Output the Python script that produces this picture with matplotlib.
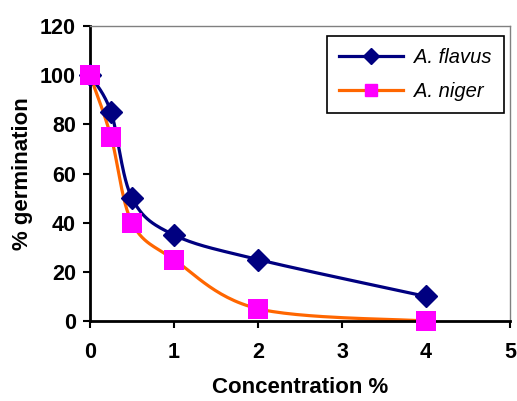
import numpy as np
import matplotlib
matplotlib.use('Agg')
import matplotlib.pyplot as plt
from matplotlib.lines import Line2D

plt.rcParams['font.family'] = ['Liberation Sans', 'DejaVu Sans']

conc = [0, 0.25, 0.5, 1, 2, 4]
flavus = [100, 85, 50, 35, 25, 10]
niger = [100, 75, 40, 25, 5, 0]


def smooth(x, y, n=30):
    # Excel-style smoothed line (Catmull-Rom through the points)
    x = np.asarray(x, float)
    y = np.asarray(y, float)
    px = np.concatenate([[x[0]], x, [x[-1]]])
    py = np.concatenate([[y[0]], y, [y[-1]]])
    xs, ys = [], []
    for i in range(1, len(px) - 2):
        p0 = np.array([px[i], py[i]])
        p3 = np.array([px[i + 1], py[i + 1]])
        c1 = p0 + (np.array([px[i + 1], py[i + 1]]) - np.array([px[i - 1], py[i - 1]])) / 6
        c2 = p3 - (np.array([px[i + 2], py[i + 2]]) - np.array([px[i], py[i]])) / 6
        t = np.linspace(0, 1, n)[:, None]
        b = (1 - t) ** 3 * p0 + 3 * (1 - t) ** 2 * t * c1 + 3 * (1 - t) * t ** 2 * c2 + t ** 3 * p3
        xs.extend(b[:, 0])
        ys.extend(b[:, 1])
    return xs, ys


fig = plt.figure(figsize=(5.17, 4.01), dpi=100)
ax = fig.add_axes([90 / 517, 1 - 321 / 401, 420 / 517, 295 / 401])

navy = '#000080'
orange = '#FF6600'
magenta = '#FF00FF'

sx, sy = smooth(conc, flavus)
ax.plot(sx, sy, color=navy, lw=2.3, zorder=3)
sx, sy = smooth(conc, niger)
ax.plot(sx, sy, color=orange, lw=2.3, zorder=2)
ax.plot(conc, flavus, 'D', color=navy, ms=11, zorder=4, clip_on=False)
ax.plot(conc, niger, 's', color=magenta, ms=14, mew=0, zorder=5, clip_on=False)

ax.set_xlim(0, 5)
ax.set_ylim(0, 120)
ax.set_xticks(range(0, 6))
ax.set_yticks(range(0, 121, 20))
for s in ['top', 'right']:
    ax.spines[s].set_color('#808080')
    ax.spines[s].set_linewidth(1)
for s in ['left', 'bottom']:
    ax.spines[s].set_color('black')
    ax.spines[s].set_linewidth(2)
ax.tick_params(direction='out', length=5, width=1.5, labelsize=15.5, pad=5)
ax.tick_params(axis='x', pad=10)
for lab in ax.get_xticklabels() + ax.get_yticklabels():
    lab.set_fontweight('bold')

ax.set_xlabel('Concentration %', fontsize=16, fontweight='bold', labelpad=10)
ax.set_ylabel('% germination', fontsize=16, fontweight='bold', labelpad=5)

handles = [
    Line2D([], [], color=navy, lw=2.3, marker='D', ms=8),
    Line2D([], [], color=orange, lw=2.3, marker='s', ms=9, mfc=magenta, mec=magenta),
]
leg = ax.legend(handles, ['A. flavus', 'A. niger'], loc='upper right',
                bbox_to_anchor=(504 / 517, 1 - 36 / 401), bbox_transform=fig.transFigure,
                fancybox=False, framealpha=1, edgecolor='black',
                prop={'style': 'italic', 'size': 14.5}, handlelength=3.2, borderpad=0.6,
                labelspacing=0.75, handletextpad=0.55, borderaxespad=0)
leg.get_frame().set_linewidth(1.2)

plt.savefig('out.png', dpi=100)
